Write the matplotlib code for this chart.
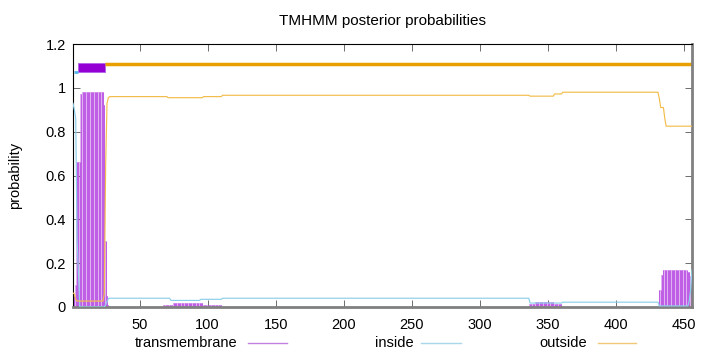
import numpy as np
import matplotlib.pyplot as plt
from matplotlib.patches import Rectangle
from matplotlib.lines import Line2D

plt.rcParams['font.family'] = ['Liberation Sans', 'DejaVu Sans']
plt.rcParams['font.size'] = 10.5

seq_len = 456

# posterior probabilities, stored as (level, number of residues) runs
tm_levels = [0.0, 0.05, 0.10, 0.66, 0.97, 0.98, 0.92, 0.30, 0.05, 0.01,
             0.0, 0.008, 0.016, 0.008, 0.0, 0.012, 0.024, 0.012, 0.0,
             0.077, 0.145, 0.168, 0.16, 0.14, 0.10]
tm_runs = [1, 1, 1, 3, 1, 16, 1, 1, 1, 1,
           40, 7, 22, 14, 226, 4, 14, 6, 71,
           2, 1, 18, 2, 1, 1]

inside_levels = [0.93, 0.90, 0.86, 0.31, 0.15, 0.0, 0.01, 0.025, 0.038,
                 0.04, 0.03, 0.035, 0.04, 0.018, 0.022, 0.005, 0.03, 0.08, 0.17]
inside_runs = [1, 1, 1, 1, 1, 19, 1, 1, 1,
               45, 22, 16, 226, 24, 71, 22, 1, 1, 1]

outside_levels = [0.064, 0.06, 0.035, 0.027, 0.06, 0.65, 0.93, 0.955,
                  0.96, 0.955, 0.96, 0.966, 0.962, 0.972, 0.98,
                  0.95, 0.91, 0.86, 0.825]
outside_runs = [1, 1, 1, 20, 1, 1, 1, 1,
                43, 26, 14, 226, 18, 6, 71,
                1, 3, 1, 20]

# predicted topology
topology = [('inside', 1, 4), ('TMhelix', 5, 24), ('outside', 25, 456)]

positions = np.arange(1, seq_len + 1)
tm_prob = np.repeat(tm_levels, tm_runs)
inside_prob = np.repeat(inside_levels, inside_runs)
outside_prob = np.repeat(outside_levels, outside_runs)

fig = plt.figure(figsize=(7.2, 3.52), dpi=100)
ax = fig.add_axes([73 / 720, 1 - 307 / 352, (692 - 73) / 720, (307 - 44) / 352])

ax.bar(positions, tm_prob, width=1.0, color='#e2b4f2', linewidth=0, zorder=1)
ax.vlines(positions, 0, tm_prob, color='#bf5fe6', lw=0.75, zorder=2)
ax.plot(positions, inside_prob, color='#8ccfea', lw=0.85, zorder=3)
ax.plot(positions, outside_prob, color='#f3bd4c', lw=0.85, zorder=3)

for kind, start, end in topology:
    if kind == 'inside':
        ax.plot([start + 0.5, end + 0.5], [1.073, 1.073], color='#56b4e9', lw=2, solid_capstyle='butt')
    elif kind == 'outside':
        ax.plot([start - 0.3, end], [1.11, 1.11], color='#e8a000', lw=2.5, solid_capstyle='butt')
    else:
        ax.add_patch(Rectangle((start - 0.6, 1.07), end - start + 1, 0.045,
                               facecolor='#9400d3', edgecolor='#b060e8', lw=0.6))

ax.set_xlim(1, seq_len)
ax.set_ylim(0, 1.2)
ax.set_xticks(np.arange(50, 451, 50))
yt = [0, 0.2, 0.4, 0.6, 0.8, 1.0, 1.2]
ax.set_yticks(yt)
ax.set_yticklabels(['0', '0.2', '0.4', '0.6', '0.8', '1', '1.2'])
ax.tick_params(direction='in', top=True, right=True, length=5, width=0.6,
               color='#555555', labelsize=10.5)
ax.tick_params(axis='y', pad=5)
ax.tick_params(axis='x', pad=8)

for s in ['left', 'top']:
    ax.spines[s].set_color('black')
    ax.spines[s].set_linewidth(0.8)
for s in ['bottom', 'right']:
    ax.spines[s].set_color('#808080')
    ax.spines[s].set_linewidth(2.0)

ax.set_title('TMHMM posterior probabilities', fontsize=11, pad=14)
fig.text(15 / 720, 1 - 175 / 352, 'probability', rotation=90, ha='center', va='center')

# legend row under the axis
legend_items = [('transmembrane', 135, 248, 287, '#c080e0'),
                ('inside', 375, 421, 461, '#a8d8ea'),
                ('outside', 539, 598, 636, '#f0c878')]
ly = 1 - 343 / 352
for label, tx, x0, x1, col in legend_items:
    fig.text(tx / 720, ly, label, ha='left', va='center')
    fig.add_artist(Line2D([x0 / 720, x1 / 720], [ly, ly], color=col, lw=1.0,
                          transform=fig.transFigure))

fig.savefig('out.png', dpi=100)
